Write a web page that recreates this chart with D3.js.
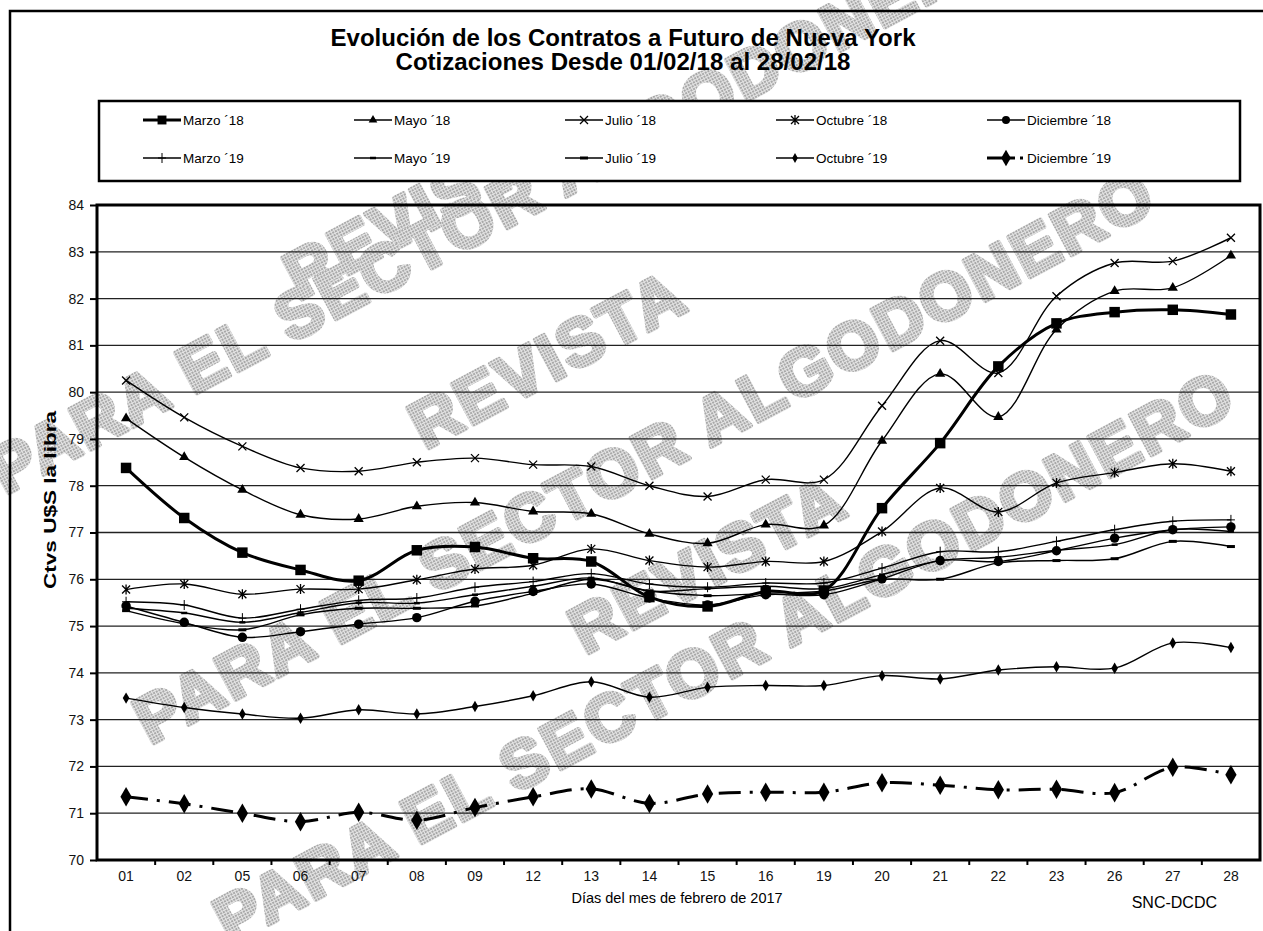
<!DOCTYPE html>
<html lang="es">
<head>
<meta charset="UTF-8">
<title>Evolución de los Contratos a Futuro de Nueva York</title>
<script src="https://d3js.org/d3.v7.min.js"></script>
<style>
  body { margin: 0; background: #fff; }
  svg { display: block; font-family: Arial, "Liberation Sans", sans-serif; }
</style>
</head>
<body>
<script>
// --- datos ---
const days = ["01","02","05","06","07","08","09","12","13","14","15","16","19","20","21","22","23","26","27","28"]
const yTicks = [70,71,72,73,74,75,76,77,78,79,80,81,82,83,84]

const marzo18 = [78.38,77.31,76.57,76.20,75.97,76.62,76.69,76.45,76.38,75.62,75.42,75.74,75.76,77.52,78.91,80.55,81.47,81.71,81.76,81.66]
const mayo18 = [79.44,78.61,77.91,77.38,77.29,77.56,77.64,77.45,77.40,76.97,76.77,77.17,77.15,78.96,80.39,79.47,81.34,82.16,82.23,82.92]
const julio18 = [80.25,79.46,78.84,78.38,78.31,78.50,78.59,78.45,78.41,78.00,77.77,78.13,78.13,79.71,81.10,80.41,82.05,82.76,82.80,83.30]
const octubre18 = [75.78,75.90,75.68,75.79,75.79,75.99,76.22,76.30,76.65,76.40,76.26,76.38,76.38,77.02,77.95,77.44,78.06,78.28,78.47,78.31]
const diciembre18 = [75.43,75.08,74.76,74.88,75.04,75.18,75.53,75.74,75.90,75.60,75.45,75.67,75.67,76.01,76.40,76.38,76.61,76.88,77.06,77.12]
const marzo19 = [75.52,75.45,75.17,75.36,75.55,75.60,75.83,75.95,76.12,75.90,75.83,75.92,75.92,76.24,76.59,76.59,76.81,77.06,77.24,77.27]
const mayo19 = [75.38,75.28,75.08,75.29,75.50,75.49,75.67,75.85,76.03,75.75,75.80,75.85,75.80,76.10,76.40,76.47,76.62,76.74,77.06,77.02]
const julio19 = [75.33,75.05,74.92,75.24,75.38,75.38,75.43,75.70,76.00,75.75,75.65,75.70,75.75,76.00,76.00,76.35,76.40,76.44,76.81,76.70]
const octubre19 = [73.46,73.26,73.12,73.03,73.21,73.12,73.28,73.51,73.81,73.48,73.69,73.73,73.73,73.94,73.87,74.06,74.13,74.10,74.64,74.54]
const diciembre19 = [71.35,71.20,71.00,70.82,71.02,70.85,71.12,71.35,71.52,71.21,71.41,71.45,71.45,71.65,71.60,71.50,71.51,71.44,71.98,71.82]

const series = [
  { name: "Marzo ´18", values: marzo18, marker: "square", width: 3 },
  { name: "Mayo ´18", values: mayo18, marker: "triangle", width: 1.4 },
  { name: "Julio ´18", values: julio18, marker: "x", width: 1.4 },
  { name: "Octubre ´18", values: octubre18, marker: "star", width: 1.4 },
  { name: "Diciembre ´18", values: diciembre18, marker: "circle", width: 1.4 },
  { name: "Marzo ´19", values: marzo19, marker: "plus", width: 1.4 },
  { name: "Mayo ´19", values: mayo19, marker: "dot", width: 1.4 },
  { name: "Julio ´19", values: julio19, marker: "dash", width: 1.4 },
  { name: "Octubre ´19", values: octubre19, marker: "diamond", width: 1.4 },
  { name: "Diciembre ´19", values: diciembre19, marker: "bigdiamond", width: 3, dash: "22,9,3,9" }
]

const watermarks = [
  ["REVISTA", 300, 300],
  ["PARA EL SECTOR ALGODONERO", 5, 495],
  ["REVISTA", 425, 450],
  ["PARA EL SECTOR ALGODONERO", 150, 745],
  ["REVISTA", 585, 655],
  ["PARA EL SECTOR ALGODONERO", 230, 945]
]

const W = 1263, H = 931
const plot = { left: 97, right: 1260, top: 205, bottom: 860 }

const svg = d3.select("body").append("svg")
  .attr("width", W).attr("height", H)

// patrón punteado de la marca de agua
const pat = svg.append("defs").append("pattern")
  .attr("id", "dots").attr("patternUnits", "userSpaceOnUse")
  .attr("width", 3).attr("height", 3)
pat.append("rect").attr("width", 3).attr("height", 3).attr("fill", "#e4e4e4")
pat.append("rect").attr("width", 2).attr("height", 2).attr("fill", "#a8a8a8")

svg.append("g").selectAll("text")
  .data(watermarks).enter().append("text")
  .attr("transform", d => `translate(${d[1]},${d[2]}) rotate(-28)`)
  .attr("font-size", 66).attr("font-weight", "bold")
  .attr("letter-spacing", 3)
  .attr("fill", "url(#dots)")
  .attr("stroke", "url(#dots)").attr("stroke-width", 5).attr("stroke-linejoin", "round")
  .text(d => d[0])

// marco exterior
svg.append("rect")
  .attr("x", 10).attr("y", 11).attr("width", 1300).attr("height", 1000)
  .attr("fill", "none").attr("stroke", "#000").attr("stroke-width", 2.5)

// titulo
svg.append("text").attr("x", 623).attr("y", 46).attr("text-anchor", "middle")
  .attr("font-size", 23).attr("font-weight", "bold")
  .attr("textLength", 585).attr("lengthAdjust", "spacingAndGlyphs")
  .text("Evolución de los Contratos a Futuro de Nueva York")
svg.append("text").attr("x", 623).attr("y", 70).attr("text-anchor", "middle")
  .attr("font-size", 23).attr("font-weight", "bold")
  .attr("textLength", 455).attr("lengthAdjust", "spacingAndGlyphs")
  .text("Cotizaciones Desde 01/02/18 al 28/02/18")

const x = d3.scaleBand().domain(days).range([plot.left, plot.right])
const y = d3.scaleLinear().domain([70, 84]).range([plot.bottom, plot.top])
const cx = d => x(d) + x.bandwidth() / 2

// rejilla
svg.append("g").selectAll("line")
  .data(yTicks).enter().append("line")
  .attr("x1", plot.left).attr("x2", plot.right)
  .attr("y1", d => y(d)).attr("y2", d => y(d))
  .attr("stroke", "#222").attr("stroke-width", 1.3)

// eje y
const yAxis = svg.append("g")
  .attr("transform", `translate(${plot.left},0)`)
  .call(d3.axisLeft(y).tickValues(yTicks).tickSize(7).tickPadding(6))
yAxis.select(".domain").remove()
yAxis.selectAll("line").attr("stroke-width", 2)
yAxis.selectAll("text").attr("font-size", 14).attr("font-family", "Arial, 'Liberation Sans', sans-serif").attr("fill", "#111")

// eje x
const xAxis = svg.append("g")
  .attr("transform", `translate(0,${plot.bottom})`)
  .call(d3.axisBottom(x).tickSize(0).tickPadding(11))
xAxis.select(".domain").remove()
xAxis.selectAll("text").attr("font-size", 14).attr("font-family", "Arial, 'Liberation Sans', sans-serif").attr("fill", "#111")
svg.append("g").selectAll("line")
  .data(days.slice(1)).enter().append("line")
  .attr("x1", d => x(d)).attr("x2", d => x(d))
  .attr("y1", plot.bottom).attr("y2", plot.bottom + 5)
  .attr("stroke", "#000").attr("stroke-width", 2)

// borde del area
svg.append("rect")
  .attr("x", plot.left).attr("y", plot.top)
  .attr("width", plot.right - plot.left).attr("height", plot.bottom - plot.top)
  .attr("fill", "none").attr("stroke", "#000").attr("stroke-width", 3)

// marcadores
function marker(g, type, s) {
  s = s || 1
  const sym = (t, size) => g.append("path").attr("d", d3.symbol().type(t).size(size * s * s)).attr("fill", "#000")
  const stroke = (d, w) => g.append("path").attr("d", d).attr("fill", "none").attr("stroke", "#000").attr("stroke-width", w)
  if (type === "square") sym(d3.symbolSquare, 110)
  else if (type === "triangle") sym(d3.symbolTriangle, 45)
  else if (type === "circle") sym(d3.symbolCircle, 70)
  else if (type === "diamond") sym(d3.symbolDiamond, 38)
  else if (type === "bigdiamond") sym(d3.symbolDiamond, 110)
  else if (type === "x") stroke("M-4,-4L4,4M-4,4L4,-4", 1.3)
  else if (type === "star") stroke("M-4,-4L4,4M-4,4L4,-4M0,-5V5", 1.3)
  else if (type === "plus") stroke("M-4,0H4M0,-5V5", 1)
  else if (type === "dot") stroke("M-3,0H3", 2.5)
  else if (type === "dash") stroke("M-4,0H4", 3)
}

const line = d3.line()
  .x((d, i) => cx(days[i]))
  .y(d => y(d))
  .curve(d3.curveCatmullRom)

// series (de atrás hacia adelante)
const order = series.slice().reverse()
order.forEach(s => {
  svg.append("path")
    .attr("d", line(s.values))
    .attr("fill", "none").attr("stroke", "#000")
    .attr("stroke-width", s.width)
    .attr("stroke-dasharray", s.dash || null)
  s.values.forEach((v, i) => {
    const g = svg.append("g").attr("transform", `translate(${cx(days[i])},${y(v)})`)
    marker(g, s.marker)
  })
})

// leyenda
svg.append("rect")
  .attr("x", 99).attr("y", 101).attr("width", 1141).attr("height", 80)
  .attr("fill", "#fff").attr("stroke", "#000").attr("stroke-width", 2.5)

series.forEach((s, i) => {
  const lx = 143 + (i % 5) * 211
  const ly = i < 5 ? 120 : 158
  const g = svg.append("g")
  if (s.dash) {
    g.append("line").attr("x1", lx).attr("x2", lx + 28).attr("y1", ly).attr("y2", ly)
      .attr("stroke", "#000").attr("stroke-width", s.width)
    g.append("line").attr("x1", lx + 33).attr("x2", lx + 36).attr("y1", ly).attr("y2", ly)
      .attr("stroke", "#000").attr("stroke-width", s.width)
  } else {
    g.append("line").attr("x1", lx).attr("x2", lx + 38).attr("y1", ly).attr("y2", ly)
      .attr("stroke", "#000").attr("stroke-width", s.width)
  }
  marker(g.append("g").attr("transform", `translate(${lx + 19},${ly})`), s.marker, 0.85)
  g.append("text").attr("x", lx + 40).attr("y", ly + 5)
    .attr("font-size", 13.5).text(s.name)
})

// titulos de ejes
svg.append("text")
  .attr("transform", "translate(56,500) rotate(-90)")
  .attr("text-anchor", "middle").attr("font-size", 17).attr("font-weight", "bold")
  .attr("textLength", 178).attr("lengthAdjust", "spacingAndGlyphs")
  .text("Ctvs U$S la libra")
svg.append("text").attr("x", 677).attr("y", 903).attr("text-anchor", "middle")
  .attr("font-size", 14.5).text("Días del mes de febrero de 2017")
svg.append("text").attr("x", 1217).attr("y", 908).attr("text-anchor", "end")
  .attr("font-size", 16).text("SNC-DCDC")
</script>
</body>
</html>
